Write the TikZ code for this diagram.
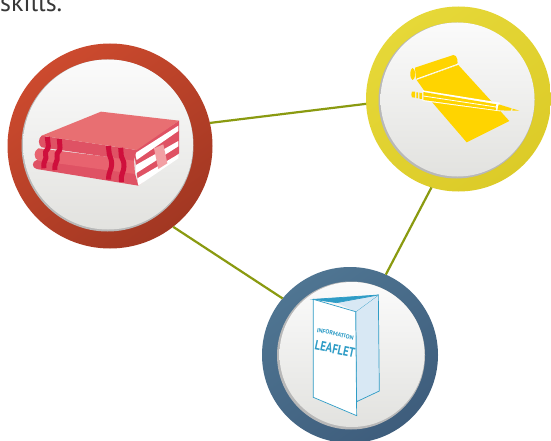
\documentclass[tikz,border=0pt]{standalone}
\usepackage{fontspec}
\usepackage{graphicx}
\setmainfont{PT Sans}
\definecolor{linkc}{HTML}{8A9A10}
\definecolor{bookT}{HTML}{E86F72}
\definecolor{bookS}{HTML}{DF5264}
\definecolor{bookM}{HTML}{E8636F}
\definecolor{bookD}{HTML}{CF0F3C}
\definecolor{bookP}{HTML}{F2A0A4}
\definecolor{pen}{HTML}{FFD400}
\definecolor{leafB}{HTML}{2E9CC6}
\definecolor{leafL}{HTML}{D8E8F4}
\definecolor{redA}{HTML}{CC4A2E}
\definecolor{redB}{HTML}{A23722}
\definecolor{yelA}{HTML}{E6D838}
\definecolor{yelB}{HTML}{DCCB28}
\definecolor{bluA}{HTML}{4F7592}
\definecolor{bluB}{HTML}{3E5D7C}
\definecolor{faceA}{HTML}{FBFBFB}
\definecolor{faceB}{HTML}{E2E2DF}
\tikzset{
  ring/.style={circle,inner sep=0pt,outer sep=0pt},
  face/.style={circle,inner sep=0pt,outer sep=0pt,top color=faceA,bottom color=faceB},
  rim/.style={circle,inner sep=0pt,outer sep=0pt,fill=black!28},
  link/.style={draw=linkc,line width=2.2pt},
  zoomed/.style={x=0.33333pt,y=-0.33333pt},
  band/.style={draw=bookD,line width=5pt}
}
\begin{document}
\begin{tikzpicture}[x=1pt,y=-1pt]
\useasboundingbox (0,0) rectangle (551,441);
\clip (0,0) rectangle (551,441);
\fill[white] (0,0) rectangle (551,441);
\node[anchor=base west,inner sep=0pt,text=black!78,font=\fontsize{26}{26}\selectfont] (skills) at (0,12) {skills.};

% rings
\node[ring,minimum size=205pt,left color=redA,right color=redB,shading angle=35] (red) at (110,146) {};
\node[ring,minimum size=185pt,left color=yelA,right color=yelB,shading angle=35] (yel) at (458.5,99) {};
\node[ring,minimum size=176pt,left color=bluA,right color=bluB,shading angle=35] (blu) at (350,355) {};

% faces
\node[rim,minimum size=172pt] at (107.5,145.5) {};
\node[face,minimum size=170pt] (redf) at (108,144.5) {};
\node[rim,minimum size=156pt] at (456.5,100.5) {};
\node[face,minimum size=154pt] (yelf) at (457.5,99.5) {};
\node[rim,minimum size=148pt] at (351,355.5) {};
\node[face,minimum size=145pt] (bluf) at (352,354.5) {};

% connectors
\draw[link] (red.13.5) -- (yel.183.7);
\draw[link] (red.-52) -- (blu.140);
\draw[link] (yel.-107.5) -- (blu.66.3);

% books
\begin{scope}[zoomed,shift={(30pt,-105pt)}]
\fill[bookS] (312,135) -- (447,47) -- (447,145) -- (325,242) -- cycle;
\fill[white] (315,145) -- (445,62) -- (445,78) -- (320,165) -- cycle;
\fill[white] (318,180) -- (445,108) -- (445,124) -- (318,205) -- cycle;
\fill[white] (322,220) -- (445,148) -- (445,160) -- (325,242) -- cycle;
\fill[bookP] (372,130) -- (400,118) -- (412,175) -- (385,192) -- cycle;
\fill[bookS] (20,165) -- (315,205) -- (325,242) -- (20,192) .. controls (5,188) and (5,170) .. (20,165) -- cycle;
\fill[bookM] (25,130) -- (312,165) -- (315,207) -- (25,167) .. controls (10,160) and (10,138) .. (25,130) -- cycle;
\fill[bookS] (35,92) -- (320,135) -- (312,167) -- (35,127) .. controls (24,120) and (24,100) .. (35,92) -- cycle;
\fill[bookT] (213,20) -- (447,47) -- (320,135) -- (35,92) -- cycle;
\draw[band] (52,96) -- (55,122) .. controls (58,135) and (42,135) .. (47,150) .. controls (52,165) and (38,165) .. (42,190);
\draw[band] (88,102) -- (90,127) .. controls (92,140) and (78,140) .. (81,155) .. controls (85,170) and (72,172) .. (75,195);
\draw[band] (235,123) -- (238,148) .. controls (242,160) and (245,165) .. (245,178) .. controls (245,195) and (235,200) .. (236,224);
\draw[band] (272,128) -- (274,154) .. controls (278,165) and (283,170) .. (282,184) .. controls (282,200) and (272,205) .. (274,231);
\end{scope}

% paper and pencil
\begin{scope}[zoomed,shift={(400pt,-45pt)}]
\fill[pen] (50,105) -- (175,60) -- (328,228) -- (200,292) -- (95,170) -- (72,136) -- cycle;
\fill[pen] (45,68) -- (160,30) .. controls (172,28) and (176,55) .. (170,60) -- (48,103) -- cycle;
\fill[pen] (38,87) ellipse [x radius=7,y radius=18];
\draw[white,line width=0.8pt] (50,102) -- (172,58);
\fill[white] (68,136) -- (300,173) -- (300,199) -- (68,168) -- cycle;
\fill[pen] (70,141) -- (290,178) -- (288,195) -- (70,165) -- cycle;
\draw[white,line width=0.8pt] (70,153) -- (288,186) -- (291,178);
\draw[white,line width=0.8pt] (288,186) -- (293,195);
\fill[pen] (296,178) -- (335,190) -- (332,197) -- (292,196) -- cycle;
\fill[pen] (338,191) -- (358,197) -- (337,197) -- cycle;
\fill[pen] (36,140) -- (45,140) -- (45,158) -- (36,157) .. controls (33,152) and (33,145) .. (36,140) -- cycle;
\fill[pen] (49,142) -- (54,142) -- (54,160) -- (49,159) -- cycle;
\fill[pen] (58,143) -- (66,144) -- (66,162) -- (58,161) -- cycle;
\end{scope}

% leaflet
\begin{scope}[zoomed,shift={(255pt,-260pt)}]
\filldraw[draw=leafB,fill=leafL,line width=0.7pt] (302,155) -- (370,105) -- (373,393) -- (305,425) -- cycle;
\filldraw[draw=leafB,fill=leafB,line width=0.7pt] (175,118) -- (370,105) -- (245,128) -- cycle;
\fill[leafL] (245,128) -- (370,105) -- (302,155) -- cycle;
\draw[leafB,line width=0.7pt] (245,128) -- (370,105);
\filldraw[draw=leafB,fill=white,line width=0.7pt] (175,118) -- (302,155) -- (305,467) -- (175,412) -- cycle;
\node[inner sep=0pt,text=leafB,rotate=-12,font=\fontsize{6}{7}\selectfont\bfseries] (info) at (241,222) {INFORMATION};
\node[inner sep=0pt,text=leafB,rotate=-12,font=\fontsize{13.5}{14}\selectfont\bfseries] (leaf) at (240,267) {\scalebox{0.8}[1]{LEAFLET}};
\end{scope}
\end{tikzpicture}
\end{document}
